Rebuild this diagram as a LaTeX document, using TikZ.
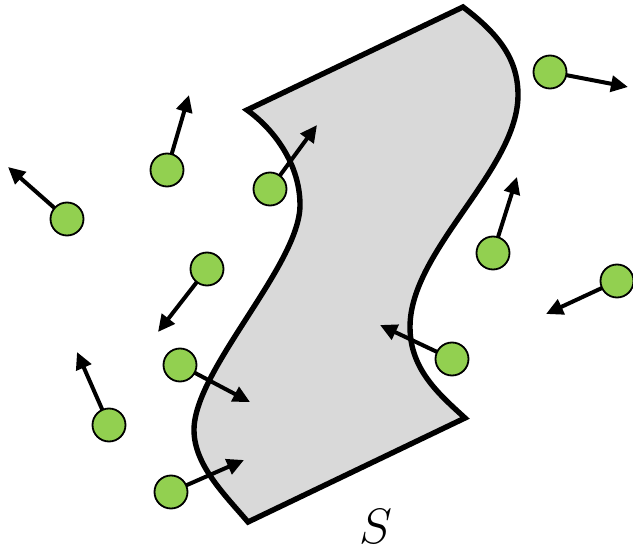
\documentclass[tikz,border=0pt]{standalone}
\usetikzlibrary{arrows.meta}
\definecolor{surfgray}{HTML}{D9D9D9}
\definecolor{partgreen}{HTML}{92D050}
\tikzset{
  surface/.style={draw=black, fill=surfgray, line width=2.7pt, line join=miter},
  particle/.style={circle, draw=black, fill=partgreen, line width=0.9pt, minimum size=16.5pt, inner sep=0pt},
  vel/.style={line width=2pt, -{Triangle[length=8.5pt,width=8pt]}, shorten <=-0.5pt},
}
\begin{document}
\begin{tikzpicture}[x=0.5pt, y=-0.5pt]
\useasboundingbox (0,0) rectangle (633,551);
% surface S
\draw[surface] (247,110) -- (463,7)
  .. controls (500,35) and (518,60) .. (518,95)
  .. controls (518,170) and (410,250) .. (410,327)
  .. controls (410,370) and (440,395) .. (465,418)
  -- (248,522)
  .. controls (225,495) and (194,465) .. (194,430)
  .. controls (194,370) and (300,265) .. (300,205)
  .. controls (300,165) and (275,130) .. (247,110) -- cycle;
\node[font=\fontsize{38}{40}\selectfont] (lab) at (376,526) {$S$};
% particles
\node[particle] (p1) at (167,170) {};
\node[particle] (p2) at (67,219) {};
\node[particle] (p3) at (207,269) {};
\node[particle] (p4) at (270,189) {};
\node[particle] (p5) at (550,72) {};
\node[particle] (p6) at (493,253) {};
\node[particle] (p7) at (617,281) {};
\node[particle] (p8) at (452,359) {};
\node[particle] (p9) at (180,365) {};
\node[particle] (p10) at (109,425) {};
\node[particle] (p11) at (171,492) {};
% arrow tips
\coordinate (t1) at (189,95);
\coordinate (t2) at (8,167);
\coordinate (t3) at (158,332);
\coordinate (t4) at (317,125);
\coordinate (t5) at (628,87);
\coordinate (t6) at (517,177);
\coordinate (t7) at (546,314);
\coordinate (t8) at (380,325);
\coordinate (t9) at (250,402);
\coordinate (t10) at (77,352);
\coordinate (t11) at (244,460);
\foreach \i in {1,...,11} {
  \draw[vel] (p\i) -- (t\i);
}
\end{tikzpicture}
\end{document}
